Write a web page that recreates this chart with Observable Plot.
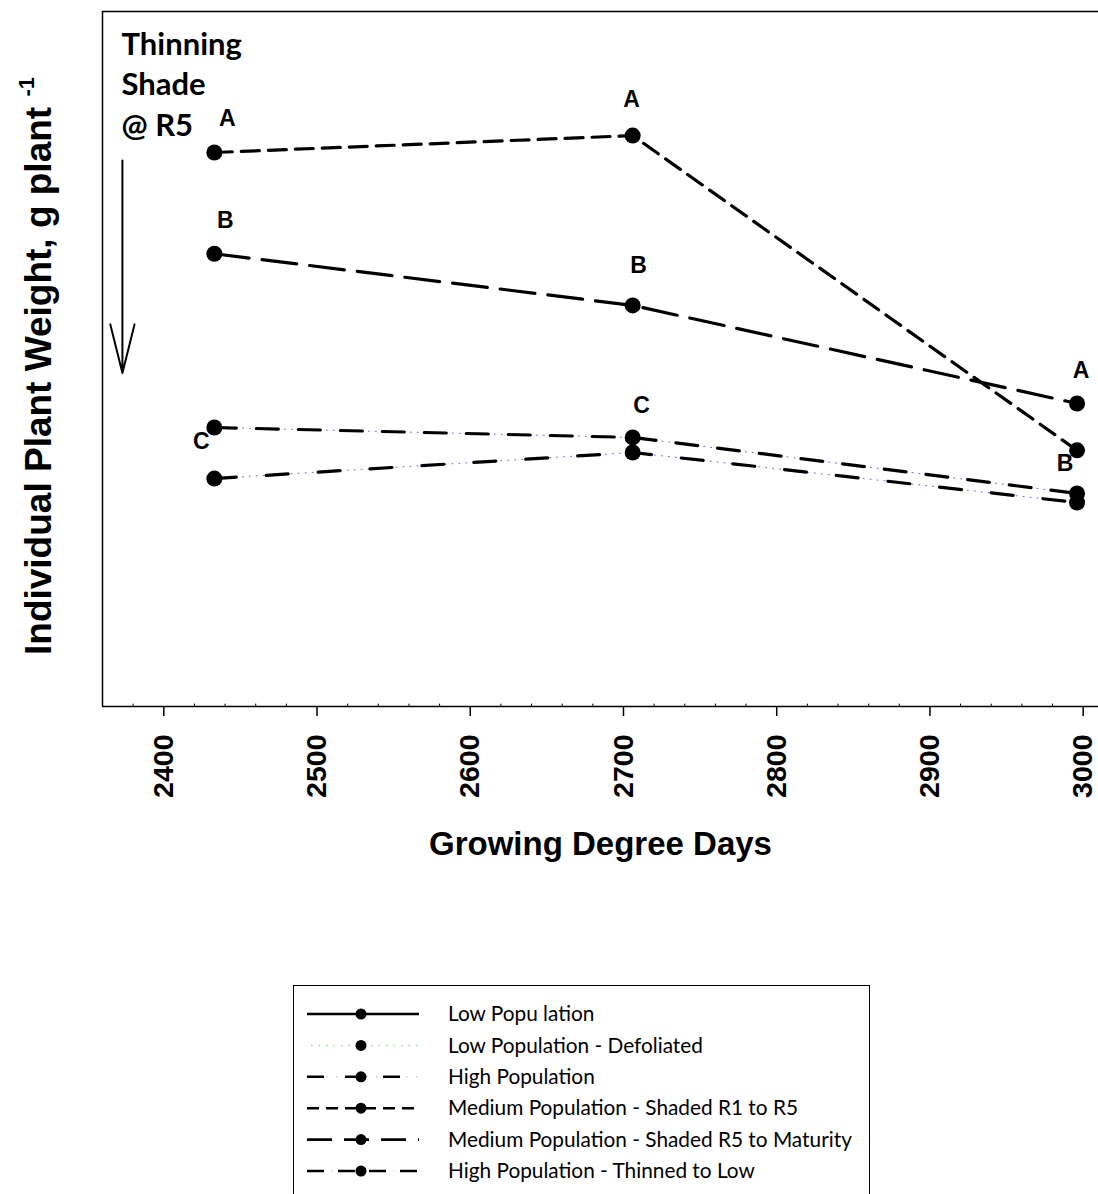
<!DOCTYPE html>
<html><head><meta charset="utf-8">
<script src="https://cdn.jsdelivr.net/npm/d3@7"></script>
<script src="https://cdn.jsdelivr.net/npm/@observablehq/plot@0.6"></script>
<style>
body{margin:0;background:#fff;width:1098px;height:1194px;overflow:hidden;position:relative;}
#chart{position:absolute;left:0;top:0;}
#legend{position:absolute;left:293px;top:985px;width:577px;height:240px;border:1.5px solid #000;box-sizing:border-box;background:#fff;}
</style></head><body><div id="chart"></div><div id="legend"></div>
<script>
// ---- data ----
const gdd = [2433, 2706, 2996];
const legendNames = ["Low Popu lation", "Low Population - Defoliated", "High Population",
  "Medium Population - Shaded R1 to R5", "Medium Population - Shaded R5 to Maturity", "High Population - Thinned to Low"];
const shadedR1R5 = [27.9, 28.75, 12.9];
const shadedR5Mat = [22.8, 20.2, 15.26];
const highPop = [14.05, 13.55, 10.73];
const thinnedLow = [11.48, 12.79, 10.27];
const lettersR1R5 = ["A", "A", "B"];
const lettersR5Mat = ["B", "B", "A"];
const lettersHigh = ["C", "C", ""];
const xTicks = [2400, 2500, 2600, 2700, 2800, 2900, 3000];
const annotationText = "Thinning\nShade\n@ R5";
const arrowX = 2373, arrowFrom = 27.5, arrowTo = 16.8;

// ---- build ----
const plotted = [
  {name: legendNames[3], values: shadedR1R5, letters: lettersR1R5, dash: "18,9", dots: false,
    off: [[13,-34],[-1,-36],[-12,13]]},
  {name: legendNames[4], values: shadedR5Mat, letters: lettersR5Mat, dash: "35,13", dots: false,
    off: [[11,-33],[6,-40],[4,-33]]},
  {name: legendNames[2], values: highPop, letters: lettersHigh, dash: "22,20", dots: true,
    off: [[-13,14],[9,-32],[0,0]]},
  {name: legendNames[5], values: thinnedLow, letters: ["", "", ""], dash: "22,30", dots: true,
    off: [[0,0],[0,0],[0,0]]}
];
const rows = plotted.flatMap(s => s.values.map((v, i) => ({series: s.name, x: gdd[i], y: v, letter: s.letters[i], dx: s.off[i][0], dy: s.off[i][1]})));

const ARIAL = "Liberation Sans, Arial, sans-serif";
const marks = [];
// frame
marks.push(Plot.ruleY([35], {stroke: "#000", strokeWidth: 1.5}));
marks.push(Plot.ruleX([2360], {stroke: "#000", strokeWidth: 1.5}));
marks.push(Plot.ruleY([0], {stroke: "#000", strokeWidth: 1.5}));
// minor ticks
const minor = d3.range(2380, 3010, 20).filter(v => !xTicks.includes(v));
marks.push(Plot.ruleX(minor, {y1: 0, y2: 0.12, stroke: "#000", strokeWidth: 1}));
marks.push(Plot.axisX({ticks: xTicks, tickFormat: "d", tickRotate: -90, tickSize: 10, tickPadding: 18, fontSize: 28.5,
  fontWeight: "bold", fontFamily: ARIAL, label: null, stroke: "#000", strokeWidth: 1.5, color: "#000"}));
// lines
for (const s of plotted) {
  const d = rows.filter(r => r.series === s.name);
  if (s.dots) marks.push(Plot.line(d, {x: "x", y: "y", stroke: "#66f", strokeWidth: 1, strokeDasharray: "1,6"}));
  marks.push(Plot.line(d, {x: "x", y: "y", stroke: "#000", strokeWidth: 3.2, strokeDasharray: s.dash}));
}
marks.push(Plot.dot(rows, {x: "x", y: "y", r: 8, fill: "#000", stroke: "none"}));
// letters
for (const r of rows.filter(r => r.letter)) {
  marks.push(Plot.text([r], {x: "x", y: "y", text: "letter", dx: r.dx, dy: r.dy, fontSize: 23, fontWeight: "bold",
    fontFamily: ARIAL, fill: "#000"}));
}
// annotation
marks.push(Plot.text([annotationText], {frameAnchor: "top-left", dx: 19, dy: 15, lineAnchor: "top", textAnchor: "start",
  lineHeight: 1.3, fontSize: 31, fontWeight: "bold", fontFamily: "Lato, 'Open Sans', sans-serif", fill: "#000"}));
marks.push(Plot.arrow([{x: arrowX, y1: arrowFrom, y2: arrowTo}], {x: "x", y1: "y1", y2: "y2", stroke: "#000", strokeWidth: 2, headLength: 37.5, headAngle: 28}));
// x label
marks.push(Plot.text(["Growing Degree Days"], {frameAnchor: "bottom", dy: 148, fontSize: 33, fontWeight: "bold",
  fontFamily: ARIAL, fill: "#000"}));

const chart = Plot.plot({
  width: 1098, height: 880,
  marginLeft: 102, marginRight: 0, marginTop: 11, marginBottom: 174,
  x: {domain: [2360, 3010]},
  y: {domain: [0, 35], axis: null},
  style: {background: "#fff", overflow: "visible"},
  marks
});
document.getElementById("chart").appendChild(chart);

// y label with superscript
const svg = d3.select(chart);
const yl = svg.append("text").attr("transform", "translate(51,366) rotate(-90)")
  .attr("text-anchor", "middle").attr("font-family", ARIAL)
  .attr("font-weight", "bold").attr("font-size", 37).attr("fill", "#000");
yl.append("tspan").text("Individual Plant Weight, g plant ");
yl.append("tspan").attr("font-size", 22).attr("dy", -17).text("-1");

// legend
const legendStyles = [
  {dash: null},
  {dash: "0,200", dots: "1.5,6", dotWidth: 1.5},
  {dash: "17,21", dots: "1.5,8.5"},
  {dash: "12,7"},
  {dash: "25,12"},
  {dash: "17,14", dots: "1.5,14"}
];
const lg = d3.select("#legend").append("svg").attr("width", 575).attr("height", 230).style("display", "block");
legendNames.forEach((n, i) => {
  const y = 28 + i * 31.4;
  const st = legendStyles[i];
  if (st.dots) lg.append("line").attr("x1", 13).attr("x2", 125).attr("y1", y).attr("y2", y)
    .attr("stroke", "#9d9").attr("stroke-width", st.dotWidth || 1.2).attr("stroke-dasharray", st.dots)
    .attr("stroke-dashoffset", i === 5 ? -24 : -19);
  lg.append("line").attr("x1", 13).attr("x2", 125).attr("y1", y).attr("y2", y)
    .attr("stroke", "#000").attr("stroke-width", 2.6).attr("stroke-dasharray", st.dash);
  lg.append("circle").attr("cx", 67).attr("cy", y).attr("r", 5.5).attr("fill", "#000");
  lg.append("text").attr("x", 154).attr("y", y).attr("dy", "0.35em").attr("font-family", "Lato, 'Open Sans', sans-serif")
    .attr("font-size", 20.8).attr("fill", "#000").text(n);
});
</script></body></html>
